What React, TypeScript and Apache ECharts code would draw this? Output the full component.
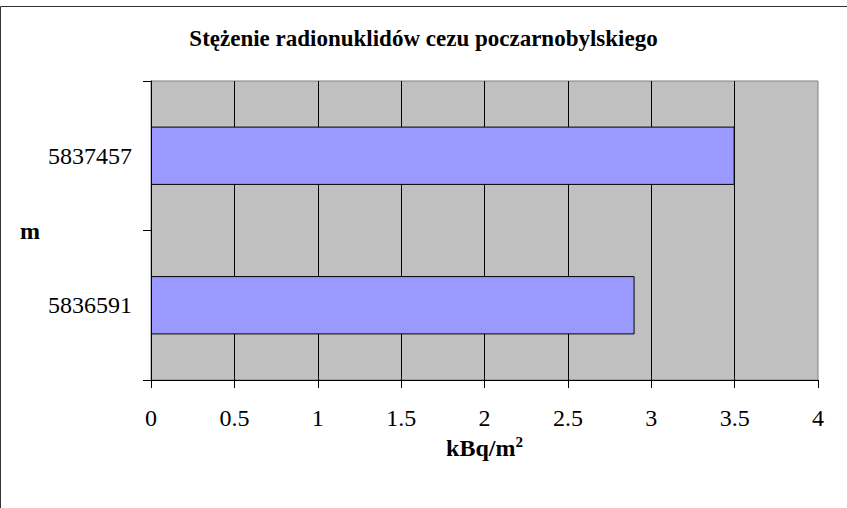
import React, { useEffect, useRef } from "react";
import * as echarts from "echarts";

const categories = ["5836591", "5837457"];
const values = [2.9, 3.5];
const titleText = "Stężenie radionuklidów cezu poczarnobylskiego";
const yName = "m";
const xMin = 0;
const xMax = 4;
const xInterval = 0.5;

const FONT = "Liberation Serif";

export default function App() {
  const ref = useRef<HTMLDivElement>(null);
  useEffect(() => {
    const chart = echarts.init(ref.current!, undefined, { renderer: "svg" });
    chart.setOption({
      animation: false,
      backgroundColor: "#ffffff",
      title: {
        text: titleText,
        left: "center",
        top: 27,
        padding: 0,
        textStyle: { fontFamily: FONT, fontSize: 23, fontWeight: "bold", color: "#000" },
      },
      graphic: [
        {
          type: "rect",
          shape: { x: 0.5, y: 6.5, width: 900, height: 600 },
          style: { fill: "none", stroke: "#333", lineWidth: 1 },
          silent: true,
        },
      ],
      grid: {
        left: 151,
        top: 81,
        right: 29,
        bottom: 128,
        show: true,
        backgroundColor: "#C0C0C0",
        borderColor: "#808080",
        borderWidth: 1,
      },
      xAxis: {
        type: "value",
        min: xMin,
        max: xMax,
        interval: xInterval,
        name: "kBq/m{sup|2}",
        nameLocation: "middle",
        nameGap: 54,
        nameTextStyle: {
          fontFamily: FONT,
          fontSize: 24,
          fontWeight: "bold",
          color: "#000",
          rich: {
            sup: { fontFamily: FONT, fontSize: 15, fontWeight: "bold", color: "#000", verticalAlign: "top", padding: [0, 0, 11, 0] },
          },
        },
        axisLine: { show: true, lineStyle: { color: "#000", width: 1 } },
        axisTick: { show: true, length: 8, lineStyle: { color: "#000" } },
        axisLabel: { fontFamily: FONT, fontSize: 24, color: "#000", margin: 26 },
        splitLine: { show: true, showMinLine: false, showMaxLine: false, lineStyle: { color: "#000", width: 1 } },
      },
      yAxis: {
        type: "category",
        data: categories,
        name: yName,
        nameLocation: "middle",
        nameRotate: 0,
        nameGap: 111,
        nameTextStyle: { fontFamily: FONT, fontSize: 24, fontWeight: "bold", color: "#000" },
        axisLine: { show: true, lineStyle: { color: "#000", width: 1 } },
        axisTick: { show: true, length: 8, lineStyle: { color: "#000" } },
        axisLabel: { fontFamily: FONT, fontSize: 24, color: "#000", margin: 19 },
        splitLine: { show: false },
      },
      series: [
        {
          type: "bar",
          data: values,
          barWidth: "39%",
          itemStyle: { color: "#9999FF", borderColor: "#000", borderWidth: 1 },
        },
      ],
    });
    return () => chart.dispose();
  }, []);
  return (
    <div
      ref={ref}
      style={{ position: "fixed", left: 0, top: 0, width: 847, height: 508 }}
    />
  );
}
